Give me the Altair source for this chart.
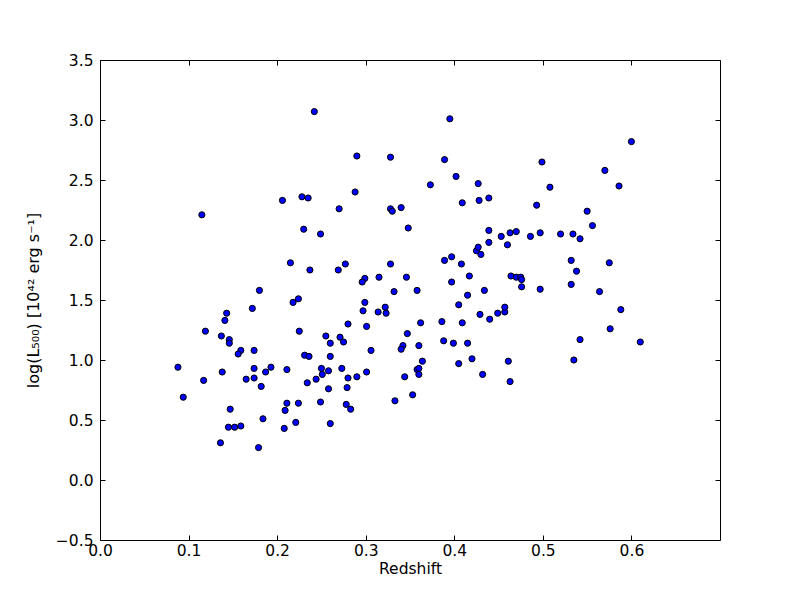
import altair as alt
import pandas as pd

redshift = [
    0.242, 0.206, 0.228, 0.235, 0.115, 0.230, 0.249, 0.215, 0.237, 0.180,
    0.218, 0.224, 0.143, 0.141, 0.172, 0.119, 0.137, 0.146, 0.146, 0.225,
    0.255, 0.260, 0.159, 0.156, 0.174, 0.231, 0.236, 0.260, 0.088, 0.138,
    0.117, 0.174, 0.193, 0.187, 0.165, 0.174, 0.182, 0.211, 0.250, 0.258,
    0.251, 0.244, 0.234, 0.258, 0.094, 0.211, 0.209, 0.224, 0.249, 0.147,
    0.184, 0.145, 0.152, 0.159, 0.208, 0.221, 0.260, 0.136, 0.179,
    0.395, 0.290, 0.328, 0.389, 0.402, 0.373, 0.427, 0.288, 0.409, 0.428,
    0.439, 0.270, 0.328, 0.330, 0.340, 0.348, 0.439, 0.439, 0.425, 0.427,
    0.430, 0.277, 0.269, 0.328, 0.389, 0.397, 0.408, 0.417, 0.299, 0.296,
    0.315, 0.346, 0.397,
    0.332, 0.358, 0.434, 0.415, 0.405, 0.429, 0.440, 0.299, 0.297, 0.314,
    0.322, 0.323, 0.280, 0.301, 0.362, 0.386, 0.409, 0.271, 0.275, 0.347,
    0.388, 0.399, 0.415, 0.342, 0.340, 0.360, 0.306, 0.364, 0.405, 0.420,
    0.273, 0.280, 0.290, 0.301, 0.279, 0.358, 0.360, 0.360, 0.344, 0.353,
    0.333, 0.432, 0.278, 0.283,
    0.600, 0.499, 0.570, 0.586, 0.508, 0.493, 0.550, 0.556, 0.453, 0.463,
    0.470, 0.460, 0.486, 0.497, 0.520, 0.534, 0.542, 0.532, 0.575, 0.538,
    0.464, 0.470, 0.475, 0.476, 0.476, 0.532,
    0.497, 0.564, 0.588, 0.449, 0.457, 0.457, 0.576, 0.542, 0.610, 0.461,
    0.535, 0.463,
]

log_l500 = [
    3.07, 2.33, 2.36, 2.35, 2.21, 2.09, 2.05, 1.81, 1.75, 1.58,
    1.48, 1.51, 1.39, 1.33, 1.43, 1.24, 1.20, 1.17, 1.14, 1.24,
    1.20, 1.14, 1.08, 1.05, 1.08, 1.04, 1.03, 1.03, 0.94, 0.90,
    0.83, 0.93, 0.94, 0.90, 0.84, 0.85, 0.78, 0.92, 0.93, 0.91,
    0.88, 0.84, 0.81, 0.76, 0.69, 0.64, 0.58, 0.64, 0.65, 0.59,
    0.51, 0.44, 0.44, 0.45, 0.43, 0.48, 0.47, 0.31, 0.27,
    3.01, 2.70, 2.69, 2.67, 2.53, 2.46, 2.47, 2.40, 2.31, 2.33,
    2.35, 2.26, 2.26, 2.24, 2.27, 2.10, 2.08, 1.98, 1.91, 1.94,
    1.88, 1.80, 1.75, 1.80, 1.83, 1.86, 1.80, 1.70, 1.68, 1.65,
    1.69, 1.69, 1.65,
    1.57, 1.58, 1.58, 1.54, 1.46, 1.38, 1.34, 1.48, 1.41, 1.40,
    1.44, 1.39, 1.30, 1.28, 1.31, 1.32, 1.31, 1.19, 1.15, 1.22,
    1.16, 1.14, 1.14, 1.12, 1.09, 1.12, 1.08, 0.99, 0.97, 1.01,
    0.93, 0.85, 0.86, 0.90, 0.77, 0.92, 0.93, 0.88, 0.86, 0.71,
    0.66, 0.88, 0.63, 0.59,
    2.82, 2.65, 2.58, 2.45, 2.44, 2.29, 2.24, 2.12, 2.03, 2.06,
    2.07, 1.96, 2.03, 2.06, 2.05, 2.05, 2.01, 1.83, 1.81, 1.74,
    1.70, 1.69, 1.69, 1.67, 1.61, 1.63,
    1.59, 1.57, 1.42, 1.39, 1.40, 1.44, 1.26, 1.17, 1.15, 0.99,
    1.00, 0.82,
]

x_ticks = [0.0, 0.1, 0.2, 0.3, 0.4, 0.5, 0.6]
y_ticks = [-0.5, 0.0, 0.5, 1.0, 1.5, 2.0, 2.5, 3.0, 3.5]

x_title = "Redshift"
y_title = "log(L\u2085\u2080\u2080) [10\u2074\u00b2 erg s\u207b\u00b9]"

df = pd.DataFrame({"z": redshift, "logL": log_l500})

FONT = "DejaVu Sans"
FS = 15.5

x_scale = alt.Scale(domain=[0, 0.7], nice=False, zero=False)
y_scale = alt.Scale(domain=[-0.5, 3.5], nice=False, zero=False)

base = alt.Chart(df)

points = base.mark_circle(
    fill="#0000ff", stroke="black", strokeWidth=1, opacity=1, size=38
).encode(
    x=alt.X("z:Q", scale=x_scale, axis=alt.Axis(
        orient="bottom", values=x_ticks, format=".1f", title=x_title,
        offset=-5, tickSize=5, labelPadding=3, titlePadding=3,
        labelFlush=False, labelOverlap=False,
        domain=False, grid=False)),
    y=alt.Y("logL:Q", scale=y_scale, axis=alt.Axis(
        orient="left", values=y_ticks, format=".1f", title=y_title,
        offset=-5, tickSize=5, labelPadding=7, titlePadding=14,
        labelFlush=False, labelOverlap=False,
        domain=False, grid=False, titleFontSize=16)),
)

mirror = base.mark_circle(opacity=0).encode(
    x=alt.X("z:Q", scale=x_scale, axis=alt.Axis(
        orient="top", values=x_ticks, offset=-5, tickSize=5,
        labels=False, domain=False, grid=False, title=None)),
    y=alt.Y("logL:Q", scale=y_scale, axis=alt.Axis(
        orient="right", values=y_ticks, offset=-5, tickSize=5,
        labels=False, domain=False, grid=False, title=None)),
)

chart = alt.layer(mirror, points).resolve_axis(
    x="independent", y="independent"
).properties(
    width=620, height=480,
    autosize=alt.AutoSizeParams(type="none"),
    padding={"left": 92, "top": 52, "right": 72, "bottom": 52},
    background="white",
).configure_view(
    stroke="black", strokeWidth=1
).configure_axis(
    labelFont=FONT, labelFontSize=FS, labelColor="black",
    titleFont=FONT, titleFontSize=FS, titleColor="black",
    titleFontWeight="normal", tickColor="black", tickWidth=1,
)

chart.save("out.html", embed_options={"renderer": "svg", "actions": False})
